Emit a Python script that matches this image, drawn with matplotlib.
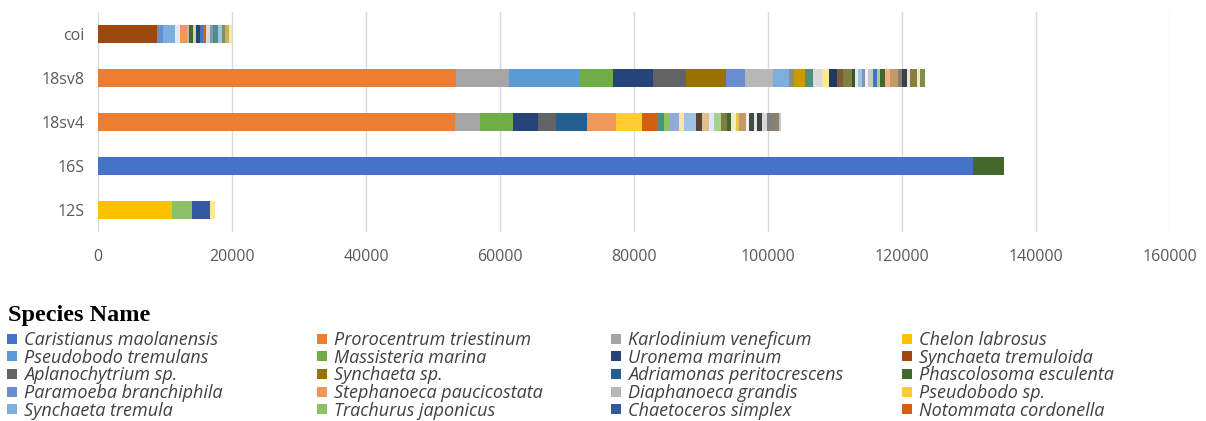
import matplotlib.pyplot as plt
from matplotlib.lines import Line2D

# markers, bottom to top
markers = ['12S', '16S', '18sv4', '18sv8', 'coi']

# named species shown in the legend
species = [
    'Caristianus maolanensis', 'Prorocentrum triestinum', 'Karlodinium veneficum', 'Chelon labrosus',
    'Pseudobodo tremulans', 'Massisteria marina', 'Uronema marinum', 'Synchaeta tremuloida',
    'Aplanochytrium sp.', 'Synchaeta sp.', 'Adriamonas peritocrescens', 'Phascolosoma esculenta',
    'Paramoeba branchiphila', 'Stephanoeca paucicostata', 'Diaphanoeca grandis', 'Pseudobodo sp.',
    'Synchaeta tremula', 'Trachurus japonicus', 'Chaetoceros simplex', 'Notommata cordonella',
]
species_colors = [
    '#4472C4', '#ED7D31', '#A5A5A5', '#FFC000',
    '#5B9BD5', '#70AD47', '#264478', '#9E480E',
    '#636363', '#997300', '#255E91', '#43682B',
    '#698ED0', '#F1975A', '#B7B7B7', '#FFCD33',
    '#7CAFDD', '#8CC168', '#335AA1', '#D26012',
]

# low-abundance taxa (not in the legend)
minor_colors = {
    'm01': '#DEEBF7', 'm02': '#C5D9B4', 'm03': '#8497B0', 'm04': '#4E8F7E',
    'm05': '#9DC3E6', 'm06': '#7F8F6A', 'm07': '#BFB45A', 'm08': '#CC9A00',
    'm09': '#D9D9D9', 'm10': '#FFE699', 'm11': '#1F3864', 'm12': '#7B5B3A',
    'm13': '#7F7F3F', 'm14': '#385723', 'm15': '#F4B183', 'm16': '#C29B6A',
    'm17': '#404040', 'm18': '#5B4636', 'm19': '#E2C08D', 'm20': '#A9D18E',
    'm21': '#8FAADC', 'm22': '#E8C547', 'm23': '#3F4F45', 'm24': '#8C8070',
    'm25': '#8C8C8C', 'm26': '#F2F2F2', 'm27': '#C9C9C9', 'm28': '#7F7F7F',
    'm29': '#E7E6E6', 'm30': '#8A7F3C', 'm31': '#EDEDC8', 'm32': '#7E8F4A',
}

# read counts per marker, in stacking order
taxa_12s = ['Chelon labrosus', 'Trachurus japonicus', 'Chaetoceros simplex', 'm10']
reads_12s = [11000, 3000, 2700, 700]

taxa_16s = ['Caristianus maolanensis', 'Phascolosoma esculenta']
reads_16s = [130600, 4600]

taxa_18sv4 = ['Prorocentrum triestinum', 'Karlodinium veneficum', 'Massisteria marina', 'Uronema marinum',
              'Aplanochytrium sp.', 'Adriamonas peritocrescens', 'Stephanoeca paucicostata', 'Pseudobodo sp.',
              'Notommata cordonella', 'm04', 'Trachurus japonicus', 'm21', 'm10', 'm05', 'm18', 'm19',
              'm01', 'm20', 'm13', 'Phascolosoma esculenta', 'm31', 'm22', 'm16', 'm26', 'm23', 'm29',
              'm17', 'm09', 'm28', 'm24', 'm27']
reads_18sv4 = [53300, 3700, 4900, 3700, 2800, 4600, 4300, 3900, 2200, 1050, 750, 1500, 750, 1800, 900,
               1050, 750, 1050, 900, 600, 750, 450, 1050, 450, 750, 450, 750, 750, 750, 1050, 300]

taxa_18sv8 = ['Prorocentrum triestinum', 'Karlodinium veneficum', 'Pseudobodo tremulans', 'Massisteria marina',
              'Uronema marinum', 'Aplanochytrium sp.', 'Synchaeta sp.', 'Paramoeba branchiphila',
              'Diaphanoeca grandis', 'Synchaeta tremula', 'm25', 'm08', 'm04', 'm09', 'm10', 'm11', 'm12',
              'm13', 'm14', 'm01', 'm05', 'm03', 'm26', 'm27', 'Caristianus maolanensis', 'm20',
              'Phascolosoma esculenta', 'm15', 'm16', 'm28', 'm17', 'm29', 'm30', 'm31', 'm32']
reads_18sv8 = [53400, 7900, 10600, 4900, 6000, 4900, 6100, 2700, 4200, 2500, 750, 1500, 1200, 1350, 1050,
               1200, 900, 1350, 450, 450, 600, 450, 450, 750, 600, 450, 750, 750, 1200, 600, 750, 450,
               1050, 450, 750]

taxa_coi = ['Synchaeta tremuloida', 'Paramoeba branchiphila', 'Synchaeta tremula', 'm01',
            'Stephanoeca paucicostata', 'Diaphanoeca grandis', 'Phascolosoma esculenta', 'm02',
            'Uronema marinum', 'Caristianus maolanensis', 'Notommata cordonella', 'm09', 'm03', 'm04',
            'm05', 'm06', 'm07', 'm10']
reads_coi = [8800, 900, 1800, 750, 1050, 300, 600, 450, 600, 450, 450, 600, 450, 750, 600, 450, 600, 450]

color_of = dict(zip(species, species_colors))
color_of.update(minor_colors)

stacks = [(taxa_12s, reads_12s), (taxa_16s, reads_16s), (taxa_18sv4, reads_18sv4),
          (taxa_18sv8, reads_18sv8), (taxa_coi, reads_coi)]

fig = plt.figure(figsize=(12.06, 4.21), dpi=100)
ax = fig.add_axes([98 / 1206, 1 - 232 / 421, 1072 / 1206, 220 / 421])

for i, (taxa, reads) in enumerate(stacks):
    left = 0
    for name, val in zip(taxa, reads):
        ax.barh(i, val, left=left, height=0.41, color=color_of[name], linewidth=0)
        left += val

ax.set_xlim(0, 160000)
ax.set_ylim(-0.5, 4.5)
ax.set_xticks(range(0, 160001, 20000))
ax.set_yticks(range(len(markers)))
ax.set_yticklabels(markers)
ax.tick_params(length=0, colors='#595959', labelsize=11.5)
ax.tick_params(axis='x', pad=12)
ax.tick_params(axis='y', pad=10)
for lab in ax.get_xticklabels() + ax.get_yticklabels():
    lab.set_family('Open Sans')
for s in ax.spines.values():
    s.set_visible(False)
ax.grid(axis='x', color='#D9D9D9', linewidth=1)
ax.set_axisbelow(True)

# legend, four columns filled row by row
fig.text(8 / 1206, 1 - 315 / 421, 'Species Name', family='Liberation Serif', fontweight='bold',
         fontsize=17.5, va='center', ha='left')
col_x = [5 / 1206, 315 / 1206, 609 / 1206, 900 / 1206]
for c in range(4):
    idx = list(range(c, len(species), 4))
    handles = [Line2D([], [], linestyle='none', marker='s', markersize=6.5,
                      markerfacecolor=species_colors[k], markeredgewidth=0) for k in idx]
    fig.legend(handles, [species[k] for k in idx], loc='upper left',
               bbox_to_anchor=(col_x[c], 1 - 331 / 421), frameon=False,
               prop={'family': 'Open Sans', 'style': 'italic', 'size': 13},
               labelcolor='#404040', handlelength=0.75, handletextpad=0.3,
               labelspacing=-0.02, borderaxespad=0, borderpad=0)

fig.savefig('out.png', dpi=100)
